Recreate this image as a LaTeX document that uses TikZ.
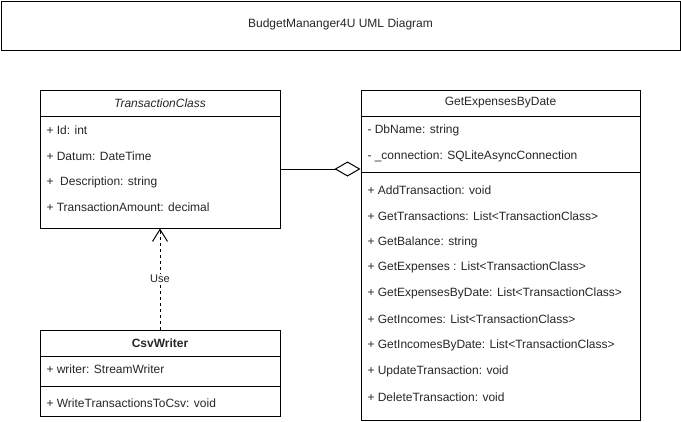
\documentclass[tikz,border=0pt]{standalone}
\usepackage{fontspec}
\setmainfont{Liberation Sans}
\usetikzlibrary{arrows.meta,calc}
\begin{document}
\begin{tikzpicture}[x=1pt,y=-1pt,line width=1pt,
  every node/.style={font=\fontsize{12}{14}\selectfont, text=black!85},
  box/.style={draw=black, rectangle, inner sep=0pt, text=black},
  row/.style={anchor=west, inner sep=0pt},
  sep/.style={draw=black, line width=1pt},
  dep/.style={dash pattern=on 3pt off 3pt, -{Straight Barb[length=12pt,width=15pt,line width=1pt]}}]
\useasboundingbox (0,0) rectangle (681,421);
% title
\node[box, minimum width=679pt, minimum height=49pt] (title) at (340.5,25.5) {};
\node (titletext) at (340.5,24.5) {BudgetMananger4U UML Diagram};
% TransactionClass
\node[box, minimum width=240pt, minimum height=138pt] (tc) at (160,159) {};
\draw[sep] (40,116) -- (280,116);
\node (tcname) at (160,103) {\itshape TransactionClass};
\node[row] (tc1) at (46,130) {+ Id: int};
\node[row] (tc2) at (46,156) {+ Datum: DateTime};
\node[row] (tc3) at (46,182) {+\ \ Description: string};
\node[row] (tc4) at (46,207) {+ TransactionAmount: decimal};
% GetExpensesByDate
\node[box, minimum width=279pt, minimum height=330pt] (gd) at (500.5,255) {};
\draw[sep] (361,116) -- (640,116);
\draw[sep] (361,172) -- (640,172);
\node (gdname) at (500.5,103) {GetExpensesByDate};
\node[row] (g1) at (367,130) {- DbName: string};
\node[row] (g2) at (367,156) {- \_connection: SQLiteAsyncConnection};
\node[row] (g3) at (367,190) {+ AddTransaction: void};
\node[row] (g4) at (367,216) {+ GetTransactions: List<TransactionClass>};
\node[row] (g5) at (367,242) {+ GetBalance: string};
\node[row] (g6) at (367,267) {+ GetExpenses : List<TransactionClass>};
\node[row] (g7) at (367,293) {+ GetExpensesByDate: List<TransactionClass>};
\node[row] (g8) at (367,319) {+ GetIncomes: List<TransactionClass>};
\node[row] (g9) at (367,345) {+ GetIncomesByDate: List<TransactionClass>};
\node[row] (g10) at (367,371) {+ UpdateTransaction: void};
\node[row] (g11) at (367,397) {+ DeleteTransaction: void};
% CsvWriter
\node[box, minimum width=240pt, minimum height=86pt] (cw) at (160,373) {};
\draw[sep] (40,356) -- (280,356);
\draw[sep] (40,386) -- (280,386);
\node (cwname) at (160,343) {\bfseries CsvWriter};
\node[row] (c1) at (46,369) {+ writer: StreamWriter};
\node[row] (c2) at (46,403) {+ WriteTransactionsToCsv: void};
% aggregation
\draw ($(tc.east)+(0,10)$) coordinate (a1) -- (a1 -| gd.west)
  [arrows={-{Diamond[open,length=26pt,width=15pt,line width=1pt]}}];
% dependency
\draw[dep] (cw.north) -- (tc.south) node[midway, fill=white, inner sep=1pt, font=\fontsize{11}{13}\selectfont] (uselbl) {Use};
\end{tikzpicture}
\end{document}
